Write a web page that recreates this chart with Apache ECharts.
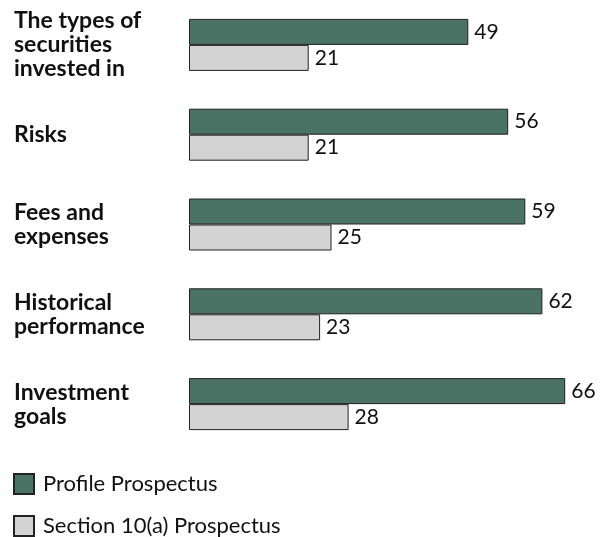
<!DOCTYPE html>
<html>
<head>
<meta charset="utf-8">
<script src="https://cdn.jsdelivr.net/npm/echarts@6/dist/echarts.min.js"></script>
<style>
  html, body { margin: 0; padding: 0; background: #fff; }
  #chart { width: 603px; height: 537px; }
</style>
</head>
<body>
<div id="chart"></div>
<script>
// categories, top to bottom
const categories = [
  'The types of\nsecurities\ninvested in',
  'Risks',
  'Fees and\nexpenses',
  'Historical\nperformance',
  'Investment\ngoals'
]
const profileValues = [49, 56, 59, 62, 66]
const sectionValues = [21, 21, 25, 23, 28]
const seriesNames = ['Profile Prospectus', 'Section 10(a) Prospectus']

const chart = echarts.init(document.getElementById('chart'))

const labelStyle = {
  show: true,
  position: 'right',
  distance: 6,
  color: '#111',
  fontFamily: 'Lato',
  fontSize: 21
}

chart.setOption({
  animation: false,
  grid: { left: 189, top: -1, width: 399, height: 450 },
  xAxis: {
    type: 'value',
    min: 0,
    max: 70,
    show: false
  },
  yAxis: {
    type: 'category',
    inverse: true,
    data: categories,
    axisLine: { show: false },
    axisTick: { show: false },
    axisLabel: {
      align: 'left',
      margin: 175,
      color: '#111',
      fontFamily: 'Lato',
      fontWeight: 'bold',
      fontSize: 23,
      lineHeight: 24
    }
  },
  legend: {
    orient: 'vertical',
    left: 13,
    top: 473,
    padding: 0,
    itemWidth: 20,
    itemHeight: 20,
    itemGap: 20,
    icon: 'rect',
    textStyle: {
      color: '#111',
      fontFamily: 'Lato',
      fontSize: 22,
      lineHeight: 20,
      padding: [0, 0, 0, 4]
    },
    data: seriesNames
  },
  series: [
    {
      name: seriesNames[0],
      type: 'bar',
      data: profileValues,
      barWidth: 26,
      barGap: '0%',
      itemStyle: { color: '#4a7265', borderColor: '#222', borderWidth: 1 },
      label: labelStyle
    },
    {
      name: seriesNames[1],
      type: 'bar',
      data: sectionValues,
      barWidth: 26,
      barGap: '0%',
      itemStyle: { color: '#d3d3d3', borderColor: '#222', borderWidth: 1 },
      label: labelStyle
    }
  ]
})
</script>
</body>
</html>
